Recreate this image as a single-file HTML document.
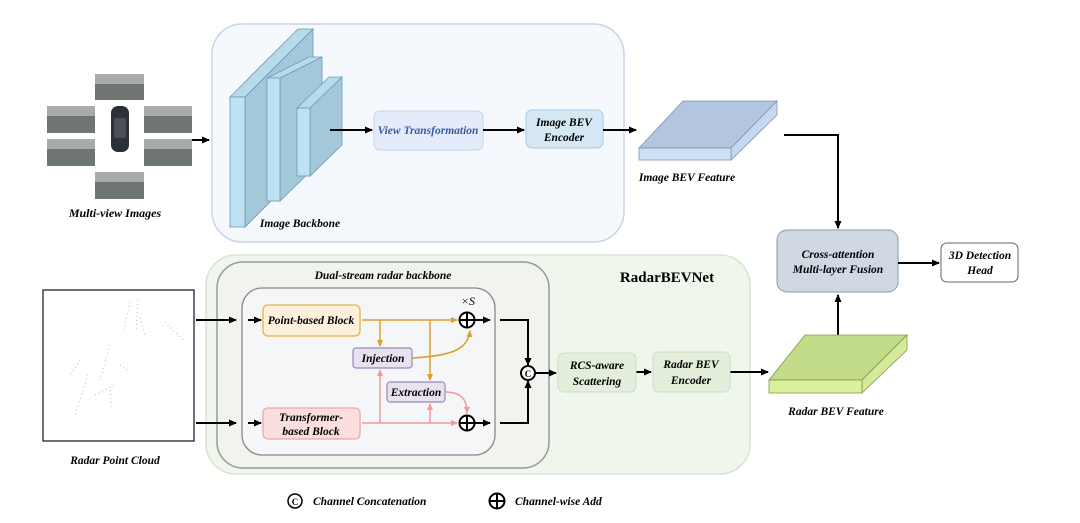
<!DOCTYPE html>
<html><head><meta charset="utf-8"><style>
html,body{margin:0;padding:0;background:#fff;width:1080px;height:523px;overflow:hidden}
svg text{font-family:"Liberation Serif",serif;font-weight:bold;font-style:italic}
</style></head><body>
<svg width="1080" height="523" viewBox="0 0 1080 523" xmlns="http://www.w3.org/2000/svg">
<defs>
<marker id="ab" markerWidth="8" markerHeight="8" refX="7" refY="4" orient="auto" markerUnits="userSpaceOnUse"><path d="M0,0.5 L8,4 L0,7.5 Z" fill="#000"/></marker>
<marker id="ag" markerWidth="7" markerHeight="7" refX="6" refY="3.5" orient="auto" markerUnits="userSpaceOnUse"><path d="M0,0.5 L7,3.5 L0,6.5 Z" fill="#d9a22a"/></marker>
<marker id="ap" markerWidth="7" markerHeight="7" refX="6" refY="3.5" orient="auto" markerUnits="userSpaceOnUse"><path d="M0,0.5 L7,3.5 L0,6.5 Z" fill="#f29a9a"/></marker>
</defs>

<rect x="212" y="24" width="412" height="218" rx="30" fill="#f5f8fd" stroke="#c9d5e5" stroke-width="1.5"/>
<g stroke="#6a9ab5" stroke-width="0.8">
<polygon points="245,97 313,29 313,159 245,227" fill="#a3c8da"/>
<polygon points="230,97 298,29 313,29 245,97" fill="#b8dbec"/>
<rect x="230" y="97" width="15" height="130" fill="#c0e1f1"/>
<polygon points="280,78 322,57 322,160 280,201" fill="#a3c8da"/>
<polygon points="267,78 309,57 322,57 280,78" fill="#b8dbec"/>
<rect x="267" y="78" width="13" height="123" fill="#c0e1f1"/>
<polygon points="310,108 342,77 342,145 310,176" fill="#a3c8da"/>
<polygon points="297,108 329,77 342,77 310,108" fill="#b8dbec"/>
<rect x="297" y="108" width="13" height="68" fill="#c0e1f1"/>
</g>
<text x="300" y="227" font-size="11.5" text-anchor="middle">Image Backbone</text>
<rect x="374" y="111" width="109" height="39" rx="6" fill="#e3ecf8" stroke="#c5d3ea"/>
<text x="428" y="134" font-size="11.5" text-anchor="middle" fill="#3a5aa8">View Transformation</text>
<rect x="526" y="110" width="77" height="38" rx="6" fill="#d6e8f3" stroke="#a8cde0"/>
<text x="564" y="126" font-size="11.5" text-anchor="middle">Image BEV</text>
<text x="564" y="141" font-size="11.5" text-anchor="middle">Encoder</text>
<g stroke="#000" stroke-width="2" fill="none" marker-end="url(#ab)">
<line x1="330" y1="130" x2="372" y2="130"/>
<line x1="483" y1="130" x2="524" y2="130"/>
<line x1="603" y1="130" x2="636" y2="130"/>
<line x1="163" y1="140" x2="209" y2="140"/>
</g>

<g fill="#6f7571">
<rect x="95" y="74" width="49" height="26"/>
<rect x="47" y="106" width="48" height="27"/>
<rect x="47" y="139" width="48" height="27"/>
<rect x="144" y="106" width="48" height="27"/>
<rect x="144" y="139" width="48" height="27"/>
<rect x="95" y="172" width="49" height="27"/>
</g>
<g fill="#a7aca9"><rect x="95" y="74" width="49" height="10"/><rect x="47" y="106" width="48" height="10"/><rect x="47" y="139" width="48" height="10"/><rect x="144" y="106" width="48" height="10"/><rect x="144" y="139" width="48" height="10"/><rect x="95" y="172" width="49" height="10"/></g>
<rect x="111" y="106" width="18" height="46" rx="7" fill="#2b2f36"/>
<rect x="114" y="118" width="12" height="20" rx="2" fill="#4a4f58"/>
<text x="115" y="217" font-size="12" text-anchor="middle">Multi-view Images</text>

<g stroke="#7f93ad" stroke-width="0.8">
<polygon points="639,148 683,101 777,101 731,148" fill="#b3c6e0"/>
<polygon points="731,148 777,101 777,115 731,160" fill="#c6d7ee"/>
<rect x="639" y="148" width="92" height="12" fill="#cfdff4"/>
</g>
<text x="687" y="181" font-size="11.5" text-anchor="middle">Image BEV Feature</text>

<rect x="777" y="230" width="121" height="62" rx="10" fill="#cfd8e3" stroke="#8a9aa8"/>
<text x="838" y="258" font-size="11.5" text-anchor="middle">Cross-attention</text>
<text x="838" y="273" font-size="11.5" text-anchor="middle">Multi-layer Fusion</text>
<rect x="941" y="243" width="77" height="39" rx="6" fill="#fff" stroke="#666"/>
<text x="980" y="259" font-size="11.5" text-anchor="middle">3D Detection</text>
<text x="980" y="274" font-size="11.5" text-anchor="middle">Head</text>
<g stroke="#000" stroke-width="2" fill="none" marker-end="url(#ab)">
<polyline points="784,135 838,135 838,228"/>
<line x1="838" y1="353" x2="838" y2="295"/>
<line x1="898" y1="263" x2="939" y2="263"/>
</g>

<rect x="206" y="255" width="544" height="219" rx="30" fill="#eff6eb" stroke="#d7e4d0" stroke-width="1.5"/>
<text x="667" y="282" font-size="15" text-anchor="middle" style="font-style:normal">RadarBEVNet</text>
<rect x="217" y="262" width="332" height="206" rx="26" fill="#f1f3ef" stroke="#999" stroke-width="1.5"/>
<text x="383" y="279" font-size="11.5" text-anchor="middle">Dual-stream radar backbone</text>
<rect x="242" y="288" width="253" height="167" rx="20" fill="#f5f6f8" stroke="#888" stroke-width="1.3"/>

<rect x="263" y="305" width="97" height="31" rx="5" fill="#fdf0dc" stroke="#e2b44a" stroke-width="1.3"/>
<text x="311" y="324" font-size="11.5" text-anchor="middle">Point-based Block</text>
<rect x="263" y="408" width="97" height="31" rx="5" fill="#fbdede" stroke="#f0a6a6" stroke-width="1.3"/>
<text x="311" y="421" font-size="11.5" text-anchor="middle">Transformer-</text>
<text x="311" y="435" font-size="11.5" text-anchor="middle">based Block</text>
<rect x="353" y="348" width="59" height="20" rx="3" fill="#e7e2ee" stroke="#9a88b8" stroke-width="1.2"/>
<text x="383" y="362" font-size="11.5" text-anchor="middle">Injection</text>
<rect x="387" y="382" width="58" height="20" rx="3" fill="#e7e2ee" stroke="#9a88b8" stroke-width="1.2"/>
<text x="416" y="396" font-size="11.5" text-anchor="middle">Extraction</text>

<g stroke="#d9a22a" stroke-width="1.5" fill="none">
<line x1="362" y1="320" x2="457" y2="320" marker-end="url(#ag)"/>
<line x1="380" y1="320" x2="380" y2="346" marker-end="url(#ag)"/>
<line x1="430" y1="320" x2="430" y2="380" marker-end="url(#ag)"/>
<path d="M412,358 C450,356 468,350 470,331" marker-end="url(#ag)"/>
</g>
<g stroke="#f29a9a" stroke-width="1.5" fill="none">
<line x1="362" y1="423" x2="457" y2="423" marker-end="url(#ap)"/>
<line x1="380" y1="423" x2="380" y2="370" marker-end="url(#ap)"/>
<line x1="430" y1="423" x2="430" y2="404" marker-end="url(#ap)"/>
<path d="M445,392 C462,392 467,400 467,413" marker-end="url(#ap)"/>
</g>
<g stroke="#000" stroke-width="2" fill="#fff">
<circle cx="467" cy="320" r="7.5"/><circle cx="467" cy="423" r="7.5"/>
</g>
<g stroke="#000" stroke-width="2"><line x1="459.5" y1="320" x2="474.5" y2="320"/><line x1="467" y1="312.5" x2="467" y2="327.5"/><line x1="459.5" y1="423" x2="474.5" y2="423"/><line x1="467" y1="415.5" x2="467" y2="430.5"/></g>
<text x="468" y="305" font-size="12" text-anchor="middle" style="font-weight:normal">×S</text>
<g stroke="#000" stroke-width="2" fill="none" marker-end="url(#ab)">
<line x1="475" y1="320" x2="490" y2="320"/>
<line x1="475" y1="423" x2="490" y2="423"/>
<polyline points="500,320 528,320 528,365"/>
<polyline points="500,423 528,423 528,381"/>
<line x1="535" y1="373" x2="556" y2="373"/>
<line x1="196" y1="320" x2="236" y2="320"/>
<line x1="196" y1="423" x2="236" y2="423"/>
<line x1="248" y1="320" x2="261" y2="320"/>
<line x1="248" y1="423" x2="261" y2="423"/>
<line x1="636" y1="372" x2="651" y2="372"/>
<line x1="730" y1="372" x2="768" y2="372"/>
</g>
<circle cx="528" cy="373" r="7" fill="#fff" stroke="#000" stroke-width="2"/>
<text x="528" y="377" font-size="9" text-anchor="middle" style="font-style:normal">C</text>

<rect x="558" y="353" width="78" height="39" rx="6" fill="#e3eedd" stroke="#cfdcc8"/>
<text x="597" y="369" font-size="11.5" text-anchor="middle">RCS-aware</text>
<text x="597" y="385" font-size="11.5" text-anchor="middle">Scattering</text>
<rect x="653" y="352" width="77" height="40" rx="6" fill="#e3eedd" stroke="#cfdcc8"/>
<text x="691" y="368" font-size="11.5" text-anchor="middle">Radar BEV</text>
<text x="691" y="384" font-size="11.5" text-anchor="middle">Encoder</text>

<g stroke="#7d9a45" stroke-width="0.8">
<polygon points="769,380 805,335 907,335 862,380" fill="#c2dc8a"/>
<polygon points="862,380 907,335 907,350 862,393" fill="#d5e99c"/>
<rect x="769" y="380" width="93" height="13" fill="#dcef9e"/>
</g>
<text x="836" y="415" font-size="11.5" text-anchor="middle">Radar BEV Feature</text>

<rect x="43" y="290" width="151" height="151" fill="#fff" stroke="#222" stroke-width="1.3"/>
<g stroke="#bbb" stroke-width="1" stroke-dasharray="1,3" fill="none">
<line x1="130" y1="302" x2="124" y2="330"/><line x1="138" y1="300" x2="136" y2="330"/>
<line x1="110" y1="345" x2="100" y2="380"/><line x1="88" y1="375" x2="75" y2="415"/>
<line x1="165" y1="322" x2="183" y2="340"/><line x1="140" y1="318" x2="145" y2="335"/>
<line x1="120" y1="365" x2="130" y2="372"/><line x1="95" y1="395" x2="115" y2="385"/>
<line x1="110" y1="390" x2="112" y2="410"/><line x1="80" y1="360" x2="70" y2="375"/>
</g>
<text x="115" y="464" font-size="11.5" text-anchor="middle">Radar Point Cloud</text>

<circle cx="295" cy="501" r="7" fill="#fff" stroke="#000" stroke-width="1.5"/>
<text x="295" y="505" font-size="9" text-anchor="middle" style="font-style:normal">C</text>
<text x="313" y="505" font-size="11.5">Channel Concatenation</text>
<circle cx="497" cy="501" r="7.5" fill="#fff" stroke="#000" stroke-width="2"/>
<g stroke="#000" stroke-width="2"><line x1="489.5" y1="501" x2="504.5" y2="501"/><line x1="497" y1="493.5" x2="497" y2="508.5"/></g>
<text x="515" y="505" font-size="11.5">Channel-wise Add</text>
</svg>
</body></html>
